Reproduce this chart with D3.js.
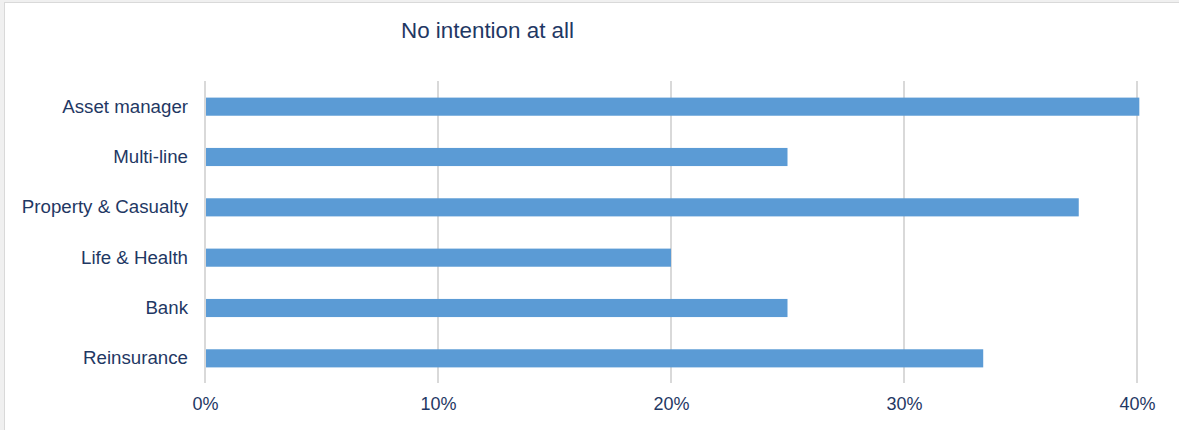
<!DOCTYPE html>
<html>
<head>
<meta charset="utf-8">
<script src="https://cdn.jsdelivr.net/npm/d3@7"></script>
<style>
  html, body { margin: 0; padding: 0; background: #f0f0f0; }
  svg { display: block; }
  text { font-family: "Liberation Sans", Arial, sans-serif; fill: #1f3864; }
</style>
</head>
<body>
<script>
const title = "No intention at all";
const categories = ["Asset manager", "Multi-line", "Property & Casualty", "Life & Health", "Bank", "Reinsurance"];
const values = [0.401, 0.25, 0.375, 0.20, 0.25, 0.334];
const tickValues = [0, 0.1, 0.2, 0.3, 0.4];

const W = 1179, H = 430;
const svg = d3.select("body").append("svg").attr("width", W).attr("height", H);

svg.append("rect").attr("x", 0).attr("y", 0).attr("width", W).attr("height", H).attr("fill", "#f0f0f0");
svg.append("rect").attr("x", 4.5).attr("y", 2.5).attr("width", W + 20).attr("height", H + 20)
  .attr("fill", "#ffffff").attr("stroke", "#d9d9d9").attr("stroke-width", 1);

const x = d3.scaleLinear().domain([0, 0.4]).range([205, 1137]);
const y = d3.scaleBand().domain(categories).range([81, 383]).paddingInner(0.64).paddingOuter(0.32);

// gridlines
svg.append("g").selectAll("line").data(tickValues).join("line")
  .attr("x1", d => x(d)).attr("x2", d => x(d))
  .attr("y1", 81).attr("y2", 383)
  .attr("stroke", "#d9d9d9").attr("stroke-width", 2);

// bars
svg.append("g").selectAll("rect").data(values).join("rect")
  .attr("x", x(0) + 1)
  .attr("y", (d, i) => y(categories[i]) + 0.5)
  .attr("width", d => x(d) - x(0) - 1)
  .attr("height", y.bandwidth())
  .attr("fill", "#5b9bd5");

// x axis labels
const xAxis = d3.axisBottom(x).tickValues(tickValues).tickFormat(d3.format(".0%")).tickSize(0).tickPadding(0);
const gx = svg.append("g").attr("transform", "translate(0,397)").call(xAxis);
gx.select(".domain").remove();
gx.selectAll("text").attr("font-size", "18px").attr("dy", "0.71em").style("fill", "#1f3864")
  .attr("font-family", "Liberation Sans, Arial, sans-serif");

// y axis labels
const yAxis = d3.axisLeft(y).tickSize(0).tickPadding(0);
const gy = svg.append("g").attr("transform", "translate(188,0.5)").call(yAxis);
gy.select(".domain").remove();
gy.selectAll("text").attr("font-size", "18.7px").style("fill", "#1f3864")
  .attr("font-family", "Liberation Sans, Arial, sans-serif");

// title
svg.append("text").attr("x", 487.5).attr("y", 37.5).attr("text-anchor", "middle")
  .attr("font-size", "22.4px").text(title);
</script>
</body>
</html>
